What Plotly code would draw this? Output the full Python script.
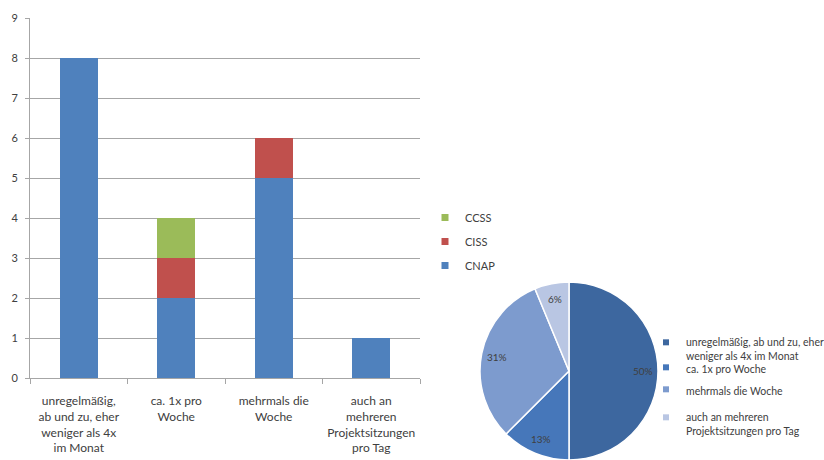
import math
import plotly.graph_objects as go

# Frequency categories (x axis of the stacked bars, slices of the pie)
categories = [
    "unregelmäßig,<br>ab und zu, eher<br>weniger als 4x<br>im Monat",
    "ca. 1x pro<br>Woche",
    "mehrmals die<br>Woche",
    "auch an<br>mehreren<br>Projektsitzungen<br>pro Tag",
]
pie_labels = [
    "unregelmäßig, ab und zu, eher<br>weniger als 4x im Monat",
    "ca. 1x pro Woche",
    "mehrmals die Woche",
    "auch an mehreren<br>Projektsitzungen pro Tag",
]

# Counts per group
cnap = [8, 2, 5, 1]
ciss = [0, 1, 1, 0]
ccss = [0, 1, 0, 0]
pie_values = [8, 2, 5, 1]

series = [
    ("CNAP", cnap, "#4F81BD"),
    ("CISS", ciss, "#C0504D"),
    ("CCSS", ccss, "#9BBB59"),
]
pie_colors = ["#3D679F", "#4677BA", "#7D9BCE", "#B9C6E3"]

FONT = "Lato"
TEXT = "#404040"
GRID = "#A6A6A6"
W, H = 824, 460

fig = go.Figure()

for name, vals, col in series:
    fig.add_trace(go.Bar(
        x=categories, y=vals, name=name, marker_color=col,
        marker_line_width=0, width=0.39, showlegend=False,
    ))
# compact square legend keys, top entry = top of the stack
for rank, (name, vals, col) in enumerate(reversed(series)):
    fig.add_trace(go.Scatter(
        x=[None], y=[None], mode="markers", name=name,
        marker=dict(symbol="square", size=7, color=col),
        legend="legend", legendgroup=name, legendrank=rank + 1,
    ))

# pie placement (paper fractions)
pie_x = [480 / W, 658 / W]
pie_y = [0, 178 / H]
radius_px = 89

fig.add_trace(go.Pie(
    labels=pie_labels, values=pie_values, sort=False,
    direction="clockwise", rotation=0,
    marker=dict(colors=pie_colors, line=dict(color="white", width=1.5)),
    textinfo="none",
    domain=dict(x=pie_x, y=pie_y),
    showlegend=False, hoverinfo="label+percent",
))

# percentage labels along each slice's bisector, near the rim
total = sum(pie_values)
cx = (pie_x[0] + pie_x[1]) / 2
cy = (pie_y[0] + pie_y[1]) / 2
cum = 0
for v in pie_values:
    theta = 2 * math.pi * (cum + v / 2) / total
    cum += v
    r = 0.83 * radius_px
    pct = math.floor(100 * v / total + 0.5)
    fig.add_annotation(
        x=cx + r * math.sin(theta) / W, y=cy + r * math.cos(theta) / H,
        xref="paper", yref="paper", xanchor="center", yanchor="middle",
        showarrow=False, text=f"{pct}%",
        font=dict(family=FONT, size=10, color=TEXT),
    )

# one small legend per pie category, stacked beside the pie
pie_legend_tops = [329, 354, 376, 404]
for i, (lab, col) in enumerate(zip(pie_labels, pie_colors)):
    fig.add_trace(go.Scatter(
        x=[None], y=[None], mode="markers", name=lab,
        marker=dict(symbol="square", size=6, color=col),
        legend=f"legend{i + 2}",
    ))

pie_legends = {
    f"legend{i + 2}": dict(
        x=646 / W, y=1 - top / H, xanchor="left", yanchor="top",
        valign="top", font=dict(family=FONT, size=10.5, color=TEXT),
        itemwidth=30, bgcolor="rgba(0,0,0,0)",
    )
    for i, top in enumerate(pie_legend_tops)
}

fig.update_layout(
    width=W, height=H,
    margin=dict(l=0, r=0, t=0, b=0, autoexpand=False),
    paper_bgcolor="white", plot_bgcolor="white",
    barmode="stack", bargap=0.61,
    font=dict(family=FONT, color=TEXT),
    xaxis=dict(
        domain=[30 / W, 420 / W],
        showline=True, linecolor=GRID, linewidth=1,
        ticks="outside", tickson="boundaries", ticklen=5, tickcolor=GRID,
        ticklabelstandoff=12,
        tickfont=dict(family=FONT, size=12, color=TEXT),
        showgrid=False,
    ),
    yaxis=dict(
        domain=[82 / H, 442 / H], range=[0, 9], dtick=1,
        showline=True, linecolor=GRID, linewidth=1,
        ticks="outside", ticklen=4, tickcolor=GRID,
        ticklabelstandoff=5,
        showgrid=True, gridcolor=GRID, gridwidth=1, zeroline=False,
        tickfont=dict(family=FONT, size=11, color=TEXT),
    ),
    legend=dict(
        x=425 / W, y=1 - 203 / H, xanchor="left", yanchor="top",
        traceorder="grouped", tracegroupgap=5,
        font=dict(family=FONT, size=11, color=TEXT),
        itemwidth=30, bgcolor="rgba(0,0,0,0)",
    ),
    **pie_legends,
)

fig.write_html("out.html")
